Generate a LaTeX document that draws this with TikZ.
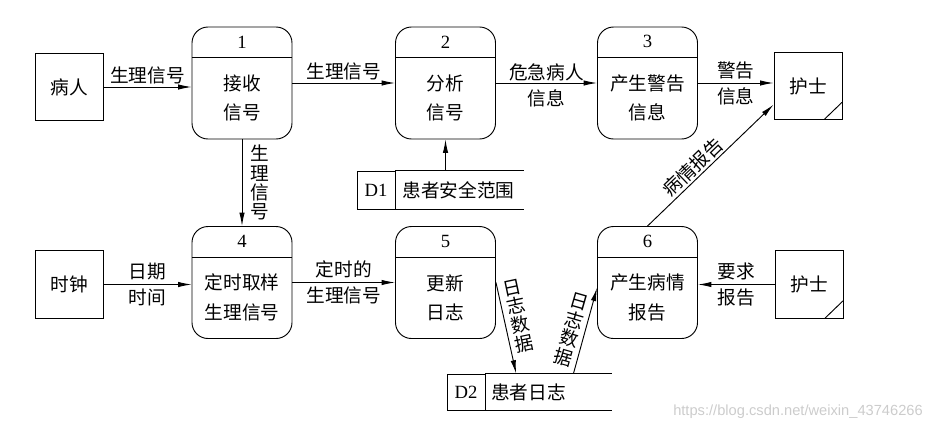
\documentclass[tikz,border=0pt]{standalone}
\usepackage{fontspec}
\setmainfont{Liberation Serif}
\newfontfamily\cjk{Noto Sans CJK SC}
\newfontfamily\wmfont{Liberation Sans}
\usepackage{tikz}
\usetikzlibrary{arrows.meta,positioning}

\begin{document}
\begin{tikzpicture}[
    x=0.75pt, y=-0.75pt,
    font=\cjk\fontsize{14}{22}\selectfont,
    line width=0.7pt,
    entity/.style={draw, minimum width=51pt, minimum height=50.5pt, inner sep=0pt},
    nurse/.style={entity, path picture={\draw ([xshift=-13.5pt]path picture bounding box.south east) -- ([yshift=13pt]path picture bounding box.south east);}},
    proc/.style={draw, rounded corners=12pt, minimum width=75pt, minimum height=84pt, inner sep=0pt,
      path picture={\draw ([yshift=-23pt]path picture bounding box.north west) -- ([yshift=-23pt]path picture bounding box.north east);},
      label={[anchor=center, yshift=-11.5pt, font=\rmfamily\fontsize{14}{14}\selectfont]north:#1}},
    ptext/.style={align=center, yshift=-11.25pt},
    storeid/.style={draw, minimum width=28.5pt, inner sep=0pt, font=\rmfamily\fontsize{14}{14}\selectfont},
    storename/.style={text width=86pt, align=left, inner xsep=5pt, inner ysep=0pt},
    flow/.style={align=center, font=\cjk\fontsize{14}{19.5}\selectfont},
    vlabel/.style={align=center, font=\cjk\fontsize{14}{14.5}\selectfont},
    wmark/.style={text=gray!40, font=\wmfont\fontsize{11}{11}\selectfont},
    arrow/.style={-{Latex[length=10pt, width=4pt]}}
  ]
    \useasboundingbox (0,0) rectangle (944,433);

    % external entities
    \node[entity] (pat) at (69,87) {病人};
    \node[entity] (clock) at (69,284.5) {时钟};
    \node[nurse] (n1) at (808,86) {护士};
    \node[nurse] (n2) at (809,284.5) {护士};

    % processes
    \node[proc=1] (p1) at (242,83) {};
    \node[proc=2] (p2) at (445.5,83) {};
    \node[proc=3] (p3) at (647.5,83) {};
    \node[proc=4] (p4) at (242,282.5) {};
    \node[proc=5] (p5) at (445.5,282.5) {};
    \node[proc=6] (p6) at (647.5,282.5) {};
    \node[ptext] (t1) at (p1) {接收\\信号};
    \node[ptext] (t2) at (p2) {分析\\信号};
    \node[ptext] (t3) at (p3) {产生警告\\信息};
    \node[ptext] (t4) at (p4) {定时取样\\生理信号};
    \node[ptext] (t5) at (p5) {更新\\日志};
    \node[ptext] (t6) at (p6) {产生病情\\报告};

    % data stores
    \node[storeid, minimum height=28.5pt] (d1id) at (376,190) {D1};
    \node[storename, minimum height=28.5pt, right=0pt of d1id] (d1) {患者安全范围};
    \draw (d1id.north east) -- (d1.north east) (d1id.south east) -- (d1.south east);
    \node[storeid, minimum height=27pt] (d2id) at (466,392) {D2};
    \node[storename, minimum height=27pt, inner xsep=4pt, right=0pt of d2id] (d2) {患者日志};
    \draw (d2id.north east) -- (d2.north east) (d2id.south east) -- (d2.south east);

    % flows
    \draw[arrow] (pat) -- node[flow, above, inner sep=2pt] {生理信号} (pat -| p1.west);
    \draw[arrow] (p1) -- node[flow, above, inner sep=2pt] {生理信号} (p2);
    \draw[arrow] (p2) -- node[flow, yshift=-1.5pt] {危急病人\\信息} (p3);
    \draw[arrow] (p3) -- node[flow] {警告\\信息} (p3 -| n1.west);
    \draw[arrow] (p1) -- node[vlabel, right=3pt] {生\\理\\信\\号} (p4);
    \draw[arrow] (p2.south |- d1.north) -- (p2.south);
    \draw[arrow] (clock) -- node[flow] {日期\\时间} (clock -| p4.west);
    \draw[arrow] (p4) -- node[flow] {定时的\\生理信号} (p5);
    \draw[arrow] (n2) -- node[flow] {要求\\报告} (n2 -| p6.east);
    \draw[arrow] (p5.east) -- node[vlabel, pos=0.37, xshift=11pt, rotate=12] {日\\志\\数\\据} ([xshift=23pt]d2.north west);
    \draw[arrow] ([xshift=66pt]d2.north west) -- node[vlabel, pos=0.51, xshift=-10.5pt, rotate=-16] {日\\志\\数\\据} ([yshift=-4pt]p6.west);
    \draw[arrow] (p6.north) -- node[flow, pos=0.42, sloped, above, inner sep=1.5pt] {病情报告} ([yshift=-14pt]n1.west);

    \node[wmark] (wm) at (798,412) {https://blog.csdn.net/weixin\_43746266};
\end{tikzpicture}
\end{document}
